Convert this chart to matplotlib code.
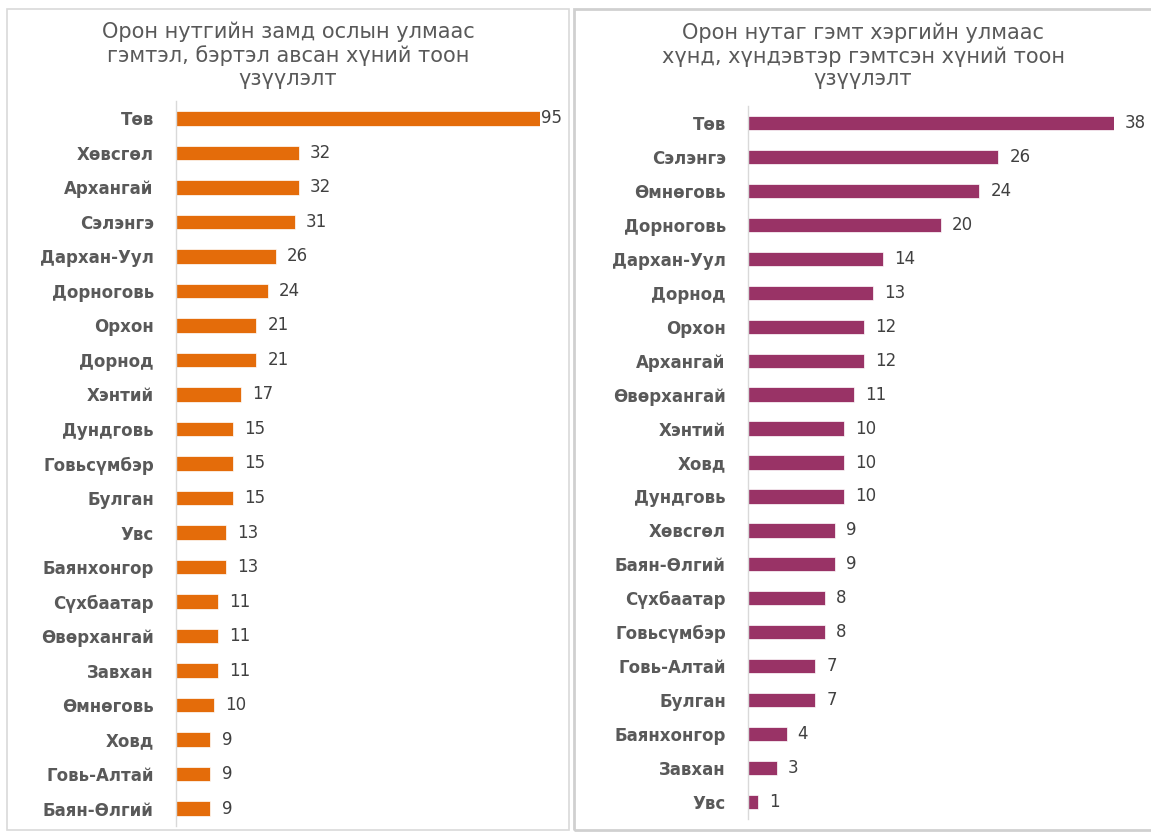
import matplotlib
matplotlib.use("Agg")
import matplotlib.pyplot as plt
from matplotlib.patches import Rectangle

plt.rcParams['font.family'] = ['DejaVu Sans', 'Liberation Sans']

# left panel: road accidents
left_title = "Орон нутгийн замд ослын улмаас\nгэмтэл, бэртэл авсан хүний тоон\nүзүүлэлт"
left_names = ["Төв", "Хөвсгөл", "Архангай", "Сэлэнгэ", "Дархан-Уул", "Дорноговь",
              "Орхон", "Дорнод", "Хэнтий", "Дундговь", "Говьсүмбэр", "Булган",
              "Увс", "Баянхонгор", "Сүхбаатар", "Өвөрхангай", "Завхан",
              "Өмнөговь", "Ховд", "Говь-Алтай", "Баян-Өлгий"]
left_values = [95, 32, 32, 31, 26, 24, 21, 21, 17, 15, 15, 15, 13, 13, 11, 11, 11,
               10, 9, 9, 9]

# right panel: crimes
right_title = "Орон нутаг гэмт хэргийн улмаас\nхүнд, хүндэвтэр гэмтсэн хүний тоон\nүзүүлэлт"
right_names = ["Төв", "Сэлэнгэ", "Өмнөговь", "Дорноговь", "Дархан-Уул", "Дорнод",
               "Орхон", "Архангай", "Өвөрхангай", "Хэнтий", "Ховд", "Дундговь",
               "Хөвсгөл", "Баян-Өлгий", "Сүхбаатар", "Говьсүмбэр", "Говь-Алтай",
               "Булган", "Баянхонгор", "Завхан", "Увс"]
right_values = [38, 26, 24, 20, 14, 13, 12, 12, 11, 10, 10, 10, 9, 9, 8, 8, 7, 7,
                4, 3, 1]

W, H = 1151, 832
fig = plt.figure(figsize=(W / 100, H / 100), dpi=100)
fig.patch.set_facecolor("white")

# panel frames
fig.patches.append(Rectangle((7 / W, 1 - 830 / H), 562 / W, 821 / H,
                             transform=fig.transFigure, fill=False,
                             edgecolor="#d9d9d9", lw=1.2))
fig.patches.append(Rectangle((574 / W, 1 - 830 / H), 580 / W, 821 / H,
                             transform=fig.transFigure, fill=False,
                             edgecolor="#d0d0d0", lw=2))


def draw(rect, names, values, color, title, title_x, title_y, label_max_pad):
    ax = fig.add_axes(rect)
    y = list(range(len(names)))
    bars = ax.barh(y, values, height=0.42, color=color, edgecolor="white", lw=0.5)
    ax.set_ylim(len(names) - 0.5, -0.5)
    ax.set_xlim(0, max(values))
    ax.set_yticks(y)
    ax.set_yticklabels(names, fontsize=12, fontweight="bold", color="#595959")
    ax.tick_params(axis="y", length=0, pad=16)
    ax.set_xticks([])
    for s in ["top", "right", "bottom"]:
        ax.spines[s].set_visible(False)
    ax.spines["left"].set_color("#d9d9d9")
    ax.spines["left"].set_linewidth(1)
    for b, v in zip(bars, values):
        pad = label_max_pad if v == max(values) else 8
        ax.annotate(str(v), (b.get_width(), b.get_y() + b.get_height() / 2),
                    xytext=(pad, 0), textcoords="offset points",
                    va="center", ha="left", fontsize=12, color="#404040",
                    annotation_clip=False)
    fig.text(title_x, 1 - title_y / H, title, ha="center", va="center",
             fontsize=15, color="#595959", linespacing=1.18,
             transform=fig.transFigure)
    return ax


draw([176 / W, 1 - 826 / H, 364 / W, 725 / H], left_names, left_values,
     "#E46C0A", left_title, 288 / W, 55, 0.5)
draw([748 / W, 1 - 819 / H, 366 / W, 713 / H], right_names, right_values,
     "#993366", right_title, 863 / W, 56, 8)

fig.savefig("out.png", dpi=100, facecolor="white")
